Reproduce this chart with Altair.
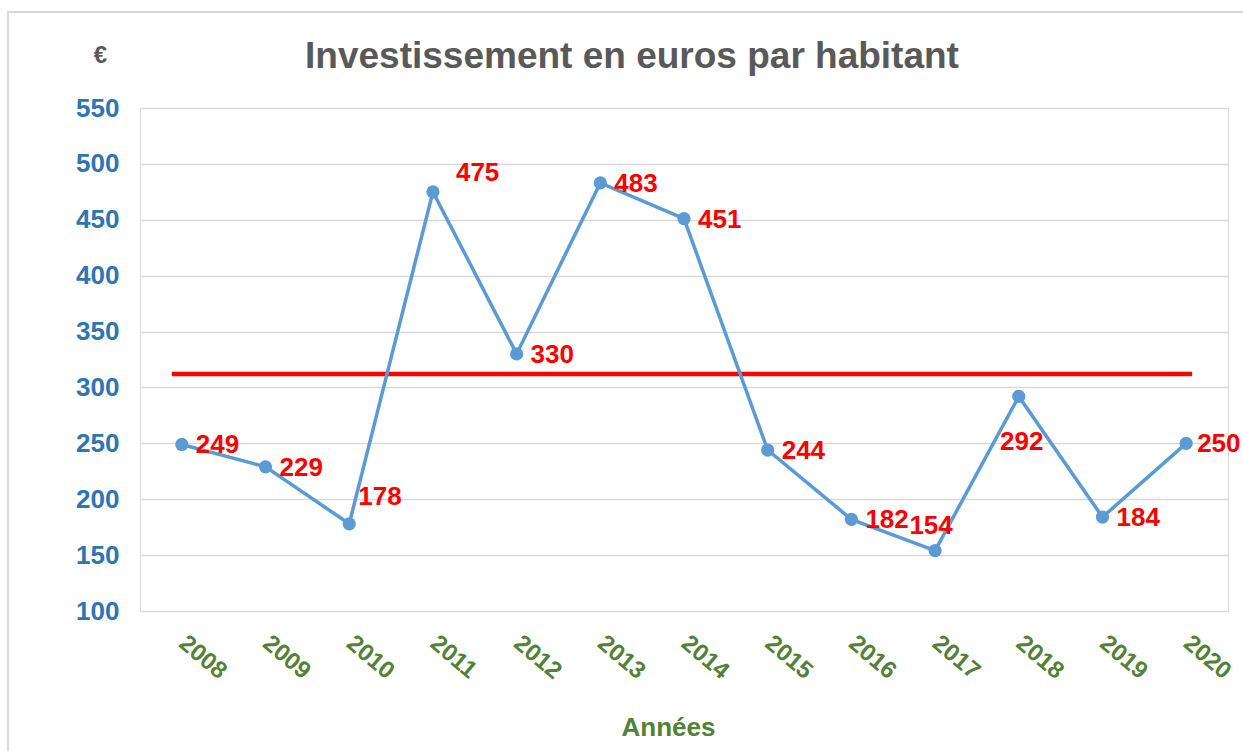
import altair as alt
import pandas as pd

years = [2008, 2009, 2010, 2011, 2012, 2013, 2014, 2015, 2016, 2017, 2018, 2019, 2020]
values = [249, 229, 178, 475, 330, 483, 451, 244, 182, 154, 292, 184, 250]
reference_value = 312

title_text = "Investissement en euros par habitant"
y_title = "€"
x_title = "Années"

FONT = "Liberation Sans"
df = pd.DataFrame({"year": years, "value": values})

x_enc = alt.X(
    "year:O",
    scale=alt.Scale(type="point", padding=0.5),
    axis=alt.Axis(
        title=x_title, labelAngle=40, labelAlign="left", labelBaseline="middle",
        labelFont=FONT, labelFontSize=24,
        labelFontWeight="bold", labelColor="#538135", labelPadding=29,
        ticks=False, tickSize=0, domain=False, grid=False,
        titleFont=FONT, titleFontSize=26, titleFontWeight="bold", titleColor="#538135",
        titleX=528, titleY=116, titleBaseline="middle", titleAlign="center",
    ),
)
y_enc = alt.Y(
    "value:Q",
    scale=alt.Scale(domain=[100, 550], nice=False, zero=False),
    axis=alt.Axis(
        title=y_title, values=list(range(100, 551, 50)), labelFont=FONT,
        labelFontSize=26, labelFontWeight="bold", labelColor="#2E75B6",
        labelPadding=21, ticks=False, tickSize=0, domain=False, grid=True,
        gridColor="#D9D9D9", gridWidth=1.5,
        titleAngle=0, titleX=-40, titleY=-53, titleAlign="center",
        titleBaseline="middle", titleFont=FONT, titleFontSize=24,
        titleFontWeight="bold", titleColor="#595959",
    ),
)

base = alt.Chart(df)

frame = alt.Chart(pd.DataFrame({"f": [0]})).mark_rect(
    fill=None, stroke="#D9D9D9", strokeWidth=2
).encode(x=alt.value(-132), y=alt.value(-96), x2=alt.value(1130), y2=alt.value(670))

line = base.mark_line(color="#5B9BD5", strokeWidth=3.5).encode(x=x_enc, y=y_enc)
points = base.mark_circle(color="#5B9BD5", size=175, opacity=1).encode(x=x_enc, y=y_enc)

ref_df = pd.DataFrame({"start": [years[0]], "end": [years[-1]], "ref": [reference_value]})
rule = alt.Chart(ref_df).mark_rule(
    color="#FF0000", strokeWidth=4.5, xOffset=-10, x2Offset=6
).encode(x=alt.X("start:O"), x2="end", y=alt.Y("ref:Q"))

placements = [
    ([2008, 2009, 2012, 2013, 2014, 2015, 2016, 2019], 14, 1, "left"),
    ([2020], 11, 1, "left"),
    ([2010], 9, -27, "left"),
    ([2011], 23, -19, "left"),
    ([2017], -4, -25, "center"),
    ([2018], 3, 46, "center"),
]
label_layers = []
for yrs, dx, dy, align in placements:
    label_layers.append(
        base.transform_filter(alt.FieldOneOfPredicate(field="year", oneOf=yrs))
        .mark_text(
            font=FONT, fontSize=26, fontWeight="bold", color="#FF0000",
            dx=dx, dy=dy, align=align, baseline="middle",
        )
        .encode(x=x_enc, y=y_enc, text="value:Q")
    )

chart = alt.layer(frame, rule, line, points, *label_layers).properties(
    width=1088,
    height=503,
    autosize=alt.AutoSizeParams(type="none"),
    padding={"left": 140, "top": 108, "right": 15, "bottom": 140},
    title=alt.TitleParams(
        text=title_text, font=FONT, fontSize=37, fontWeight="bold",
        color="#595959", anchor="middle", dx=-52, frame="group", offset=-70,
        dy=24, baseline="alphabetic",
    ),
).configure_view(stroke=None).configure(background="white")

chart.save("out.html", embed_options={"renderer": "svg", "actions": False})
